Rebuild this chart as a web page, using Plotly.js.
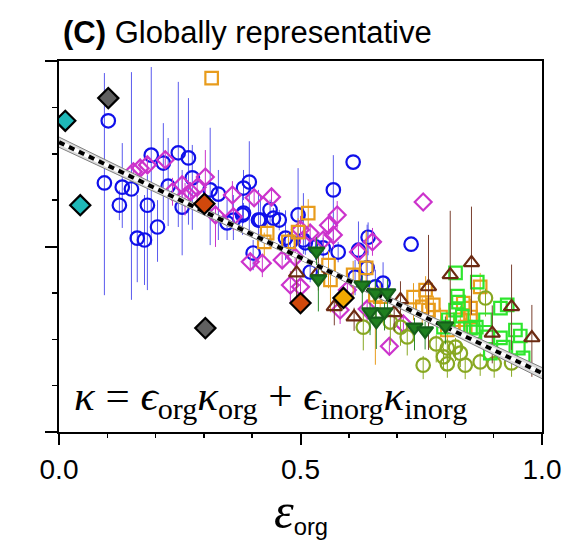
<!DOCTYPE html>
<html><head><meta charset="utf-8">
<script src="https://cdn.plot.ly/plotly-3.0.1.min.js"></script>
<style>html,body{margin:0;padding:0;background:#fff}#chart{width:572px;height:548px}</style>
</head><body><div id="chart"></div>
<script>
// ---- Blue open circles (0 = no error bar) ----
const blueX = [0.102,0.094,0.131,0.150,0.125,0.191,0.183,0.204,0.162,0.177,0.216,0.247,0.268,0.226,0.255,0.276,0.313,0.330,0.348,0.361,0.380,0.382,0.394,0.413,0.402,0.382,0.417,0.437,0.444,0.456,0.495,0.469,0.479,0.506,0.510,0.531,0.547,0.578,0.568,0.609,0.520,0.640,0.638,0.671,0.655,0.613,0.729,0.620];
const blueY = [0.671,0.537,0.528,0.524,0.489,0.597,0.489,0.442,0.418,0.414,0.580,0.602,0.591,0.530,0.485,0.548,0.522,0.513,0.451,0.457,0.468,0.526,0.539,0.457,0.386,0.472,0.457,0.479,0.461,0.457,0.468,0.418,0.410,0.414,0.408,0.399,0.397,0.388,0.522,0.582,0.345,0.420,0.354,0.321,0.313,0.334,0.405,0.392];
const blueUp = [0,0.237,0.095,0.252,0.032,0.190,0.065,0.058,0.093,0.097,0.086,0.153,0.129,0.104,0.080,0.071,0.134,0.052,0.050,0.054,0.043,0.039,0.088,0.065,0.028,0.022,0.054,0.022,0.022,0.022,0.101,0.060,0.022,0.101,0.032,0.015,0.022,0.022,0.075,0,0.022,0.032,0.093,0.045,0.037,0.037,0,0.062];
const blueDown = [0,0.242,0.088,0.239,0.032,0.194,0.183,0.075,0.095,0.097,0.123,0.160,0.144,0.086,0.104,0.112,0.119,0.099,0.037,0.043,0.043,0.026,0.104,0.043,0.037,0.022,0.043,0.032,0.022,0.022,0.054,0.047,0.022,0.030,0.026,0.028,0.022,0.022,0.108,0,0.022,0.039,0.037,0.037,0.028,0.039,0,0.030];

// ---- Magenta open diamonds ----
const magX = [0.154,0.168,0.183,0.220,0.235,0.255,0.261,0.272,0.286,0.303,0.324,0.359,0.361,0.404,0.440,0.396,0.421,0.462,0.489,0.479,0.500,0.500,0.520,0.558,0.576,0.568,0.547,0.620,0.649,0.597,0.582,0.638,0.754,0.684,0.713];
const magY = [0.561,0.569,0.576,0.587,0.518,0.533,0.507,0.518,0.528,0.550,0.468,0.511,0.464,0.505,0.507,0.367,0.364,0.371,0.377,0.317,0.313,0.436,0.429,0.446,0.468,0.425,0.414,0.388,0.410,0.306,0.263,0.265,0.496,0.185,0.233];
const magUp = [0.02,0.02,0.02,0.02,0.03,0.02,0.03,0.02,0.03,0.058,0.02,0.03,0.02,0.02,0.02,0.02,0.02,0.02,0.03,0.03,0.02,0.03,0.02,0.02,0.03,0.02,0.02,0.02,0.03,0.02,0.02,0.02,0,0.02,0.02];
const magDown = [0.02,0.02,0.02,0.02,0.03,0.03,0.04,0.03,0.03,0.04,0.069,0.03,0.03,0.02,0.02,0.02,0.03,0.02,0.03,0.04,0.04,0.03,0.03,0.02,0.03,0.03,0.02,0.02,0.03,0.03,0.03,0.03,0,0.02,0.02];

// ---- Orange open squares ----
const orX = [0.316,0.431,0.425,0.475,0.495,0.516,0.558,0.562,0.609,0.636,0.655,0.665,0.734,0.759,0.752,0.775,0.790,0.804,0.831,0.837,0.852,0.852,0.872,0.841,0.765];
const orY = [0.763,0.429,0.410,0.410,0.431,0.472,0.360,0.328,0.339,0.354,0.295,0.292,0.291,0.306,0.270,0.274,0.248,0.220,0.242,0.278,0.267,0.248,0.313,0.226,0.263];
const orUp = [0,0.02,0.02,0.02,0.03,0.03,0.03,0.02,0.03,0.08,0.02,0.03,0.03,0.03,0.02,0.02,0.02,0.02,0.03,0.03,0.02,0.02,0.03,0.02,0.02];
const orDown = [0,0.02,0.03,0.02,0.03,0.03,0.05,0.07,0.05,0.04,0.15,0.04,0.05,0.04,0.04,0.03,0.03,0.03,0.03,0.03,0.03,0.03,0.03,0.03,0.04];

// ---- Dark green down triangles ----
const gtX = [0.533,0.537,0.628,0.655,0.680,0.657,0.674,0.736,0.758,0.800,0.644];
const gtY = [0.390,0.330,0.317,0.300,0.300,0.239,0.259,0.226,0.218,0.229,0.259];
const gtUp = [0.03,0.02,0.02,0.03,0.03,0.02,0.02,0.02,0.02,0.02,0.02];
const gtDown = [0.03,0.07,0.05,0.06,0.04,0.06,0.04,0.05,0.04,0.04,0.05];

// ---- Olive open circles ----
const olX = [0.630,0.707,0.721,0.754,0.781,0.804,0.796,0.821,0.831,0.804,0.841,0.872,0.901,0.883,0.937,0.686];
const olY = [0.226,0.226,0.205,0.144,0.190,0.181,0.162,0.183,0.170,0.147,0.144,0.151,0.147,0.289,0.149,0.237];
const olUp = [0.03,0.03,0.02,0.02,0.02,0.02,0.02,0.02,0.02,0.02,0.02,0.02,0.02,0.02,0.02,0.03];
const olDown = [0.05,0.04,0.04,0.03,0.04,0.03,0.03,0.03,0.03,0.03,0.03,0.03,0.03,0.04,0.03,0.05];

// ---- Bright green open squares ----
const gsX = [0.821,0.866,0.825,0.827,0.821,0.806,0.796,0.852,0.883,0.914,0.928,0.945,0.955,0.914,0.920,0.951,0.893,0.961,0.864,0.858,0.887,0.835];
const gsY = [0.343,0.323,0.293,0.280,0.263,0.242,0.226,0.224,0.242,0.267,0.274,0.220,0.207,0.203,0.183,0.181,0.170,0.160,0.226,0.216,0.205,0.250];

// ---- Brown open up triangles ----
const brX = [0.492,0.537,0.570,0.611,0.707,0.694,0.765,0.810,0.854,0.897,0.937,0.979];
const brY = [0.343,0.345,0.270,0.248,0.285,0.257,0.313,0.339,0.365,0.213,0.270,0.203];
const brUp = [0.039,0.04,0.02,0.02,0.04,0.03,0.112,0.138,0.121,0.060,0.091,0.071];
const brDown = [0.058,0.04,0.04,0.03,0.04,0.04,0.136,0.119,0.112,0.065,0.093,0.084];

// ---- Filled diamonds ----
const cyanX = [0.013,0.044], cyanY = [0.671,0.489];
const greyX = [0.102,0.303], greyY = [0.720,0.224];
const redX = [0.301,0.500], redY = [0.492,0.278];
const goldX = [0.589], goldY = [0.289];

// ---- Fit line and band ----
const fitX = [0, 1];
const fitY = [0.625, 0.127];
const bandX = [0, 0.25, 0.5, 0.75, 1];
const bandHi = [0.636, 0.508, 0.381, 0.259, 0.139];
const bandLo = [0.614, 0.493, 0.371, 0.244, 0.115];

const xTickVals = [0, 0.5, 1];
const xTickText = ['0.0', '0.5', '1.0'];

function eb(up, down, color) {
  return {type:'data', symmetric:false, array:up, arrayminus:down, color:color, thickness:1, width:0};
}
function pts(x, y, symbol, color, size, up, down, barColor, fill, lw) {
  const t = {x:x, y:y, type:'scatter', mode:'markers', hoverinfo:'skip',
    marker:{symbol:symbol, size:size, color:fill || color, line:{color:color, width:lw || 2.2}}};
  if (up) t.error_y = eb(up, down, barColor || color);
  return t;
}

const traces = [
  pts(blueX, blueY, 'circle-open', '#1010ea', 13.5, blueUp, blueDown, '#5a5aee'),
  pts(magX, magY, 'diamond-open', '#cc33cc', 13, magUp, magDown),
  pts(orX, orY, 'square-open', '#e89c1c', 12.5, orUp, orDown),
  pts(olX, olY, 'circle-open', '#88a822', 13.5, olUp, olDown),
  pts(gsX, gsY, 'square-open', '#2ee62e', 12.5),
  pts(brX, brY, 'triangle-up-open', '#6b2a12', 13.5, brUp, brDown, '#7a4030'),
  {x:bandX, y:bandLo, type:'scatter', mode:'lines', line:{color:'#808080', width:1}, hoverinfo:'skip'},
  {x:bandX, y:bandHi, type:'scatter', mode:'lines', fill:'tonexty', fillcolor:'#dcdcdc', line:{color:'#808080', width:1}, hoverinfo:'skip'},
  {x:fitX, y:fitY, type:'scatter', mode:'lines', line:{color:'#ffffff', width:4}, hoverinfo:'skip'},
  {x:fitX, y:fitY, type:'scatter', mode:'lines', line:{color:'#000000', width:4, dash:'6px,5px'}, hoverinfo:'skip'},
  pts(gtX, gtY, 'triangle-down', '#15601a', 14, gtUp, gtDown, '#2a8a2a', '#1f7f1f'),
  pts(cyanX, cyanY, 'diamond', '#000000', 15.5, null, null, null, '#1fb8b8'),
  pts(greyX, greyY, 'diamond', '#000000', 15.5, null, null, null, '#606060'),
  pts(redX, redY, 'diamond', '#000000', 15.5, null, null, null, '#d0480c'),
  pts(goldX, goldY, 'diamond', '#000000', 15.5, null, null, null, '#f2a900')
];

const layout = {
  width:572, height:548,
  margin:{l:59, r:30, t:61, b:116},
  paper_bgcolor:'#fff', plot_bgcolor:'#fff',
  showlegend:false,
  title:{text:'<b>(C)</b> Globally representative', font:{family:'Liberation Sans, Arial, sans-serif', size:31, color:'#000'},
    xref:'container', x:63/572, xanchor:'left', yref:'container', y:1-32/548, yanchor:'middle'},
  xaxis:{range:[0,1], showgrid:false, zeroline:false, showline:true, linecolor:'#000', linewidth:2, mirror:true,
    ticks:'outside', ticklen:11, tickwidth:2, tickcolor:'#000', tickvals:xTickVals, ticktext:xTickText,
    tickfont:{family:'Liberation Sans, Arial, sans-serif', size:28, color:'#000'},
    minor:{dtick:0.1, ticks:'outside', ticklen:4, tickwidth:1.5, tickcolor:'#000', showgrid:false}},
  yaxis:{range:[0,0.8], showgrid:false, zeroline:false, showline:true, linecolor:'#000', linewidth:2, mirror:true,
    ticks:'outside', ticklen:12, tickwidth:2, tickcolor:'#000', dtick:0.4, tick0:0, showticklabels:false,
    minor:{dtick:0.1, ticks:'outside', ticklen:5, tickwidth:1.5, tickcolor:'#000', showgrid:false}},
  annotations:[
    {xref:'paper', yref:'paper', x:0.5, y:-0.215, xanchor:'center', yanchor:'middle', showarrow:false,
     text:'<span style="font-family:Liberation Serif;font-style:italic;font-size:50px">ε</span><sub>org</sub>',
     font:{family:'Liberation Sans, Arial, sans-serif', size:34, color:'#000'}},
    {xref:'paper', yref:'paper', x:0.027, y:0.088, xanchor:'left', yanchor:'middle', showarrow:false,
     text:'<i>κ</i> = <i>ϵ</i><sub>org</sub><i>κ</i><sub>org</sub> + <i>ϵ</i><sub>inorg</sub><i>κ</i><sub>inorg</sub>',
     font:{family:'Liberation Serif, Times New Roman, serif', size:43, color:'#000'}}
  ]
};

Plotly.newPlot('chart', traces, layout, {staticPlot:true, displayModeBar:false});
</script></body></html>
